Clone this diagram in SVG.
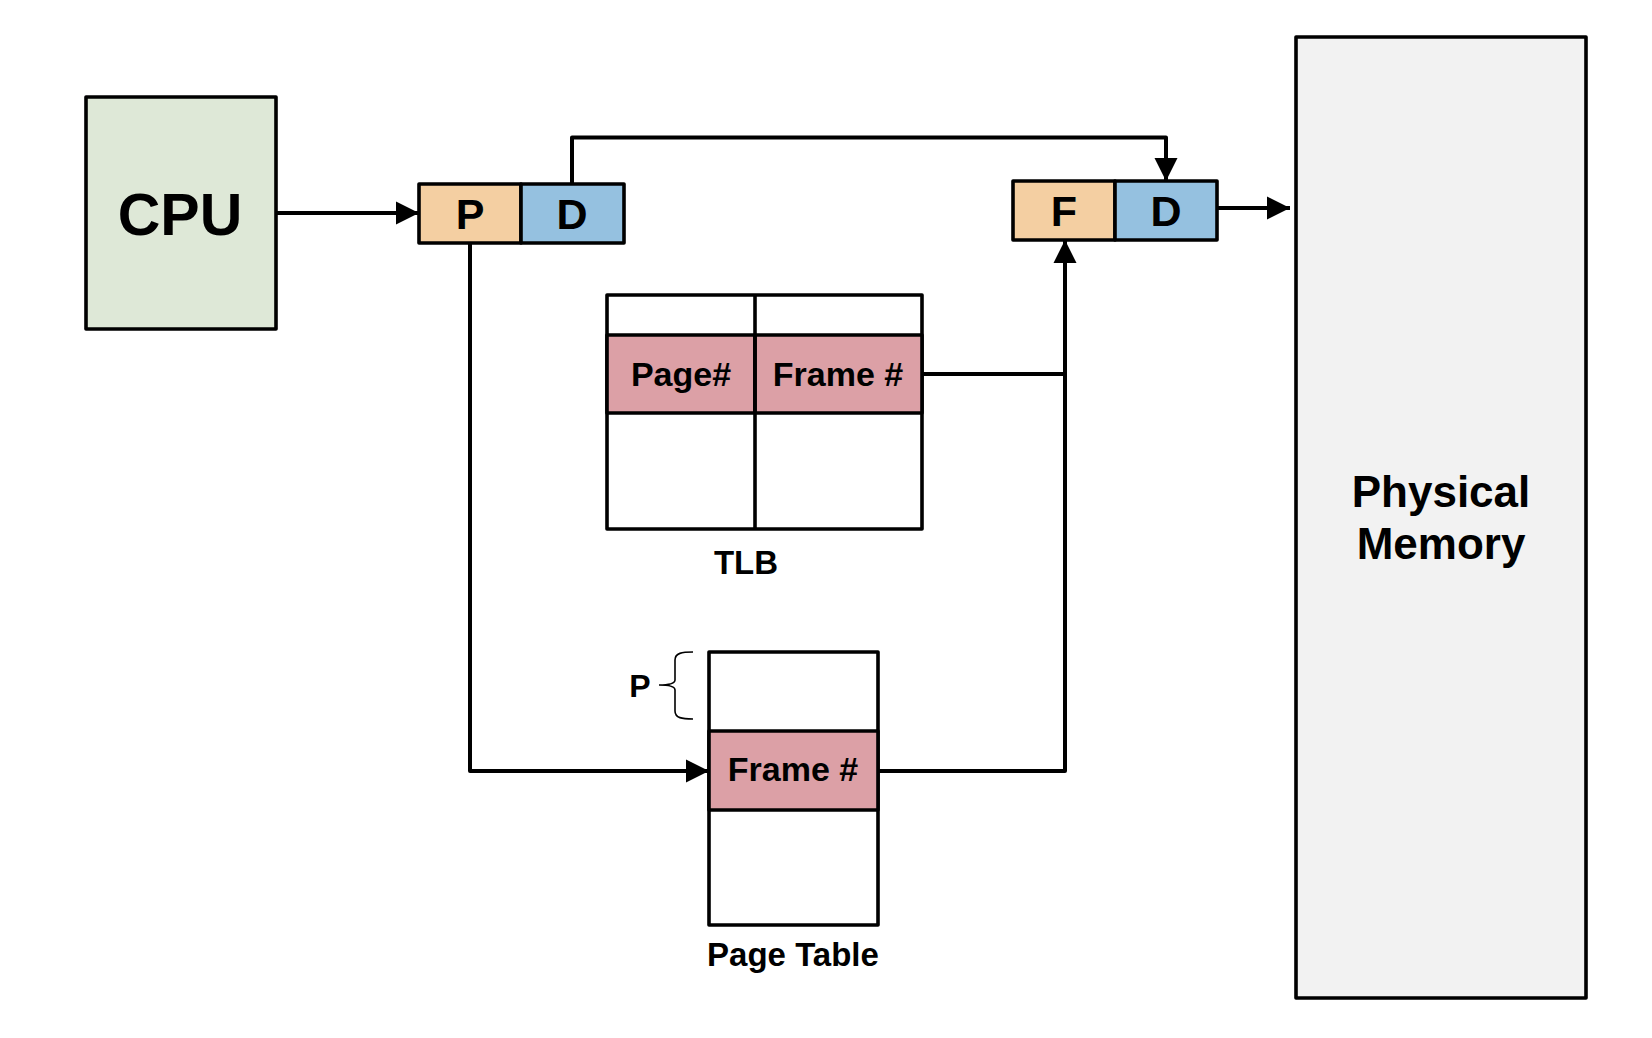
<svg xmlns="http://www.w3.org/2000/svg" width="1652" height="1038" viewBox="0 0 1652 1038">
<defs>
<marker id="ahb" viewBox="0 0 24 24" refX="24" refY="12" markerWidth="23" markerHeight="24" markerUnits="userSpaceOnUse" orient="auto">
<path d="M0,0 L24,12 L0,24 z" fill="#000"/>
</marker>
</defs>
<style>
text{font-family:"Liberation Sans",Arial,Helvetica,sans-serif;font-weight:bold;fill:#000;text-anchor:middle}
.box{stroke:#000;stroke-width:3.6;stroke-linejoin:round}
.conn{fill:none;stroke:#000;stroke-width:4;stroke-linejoin:round}
.peach{fill:#F4CFA2}
.blue{fill:#95C1E0}
.pink{fill:#DCA0A6}
.white{fill:#FFFFFF}
</style>
<rect width="1652" height="1038" fill="#fff"/>

<g id="cpu">
<rect class="box" x="86" y="97" width="190" height="232" fill="#DEE8D7"/>
<text x="180" y="235" font-size="59">CPU</text>
</g>

<g id="logical-address">
<rect class="box peach" x="419" y="184" width="102" height="59"/>
<rect class="box blue" x="521" y="184" width="103" height="59"/>
<text x="470" y="229" font-size="43">P</text>
<text x="572" y="229" font-size="43">D</text>
</g>

<g id="physical-address">
<rect class="box peach" x="1013" y="181" width="102" height="59"/>
<rect class="box blue" x="1115" y="181" width="102" height="59"/>
<text x="1064" y="226" font-size="43">F</text>
<text x="1166" y="226" font-size="43">D</text>
</g>

<g id="physical-memory">
<rect class="box" x="1296" y="37" width="290" height="961" fill="#F2F2F2"/>
<text x="1441" y="507" font-size="44">Physical</text>
<text x="1441" y="559" font-size="44">Memory</text>
</g>

<g id="tlb">
<rect class="box white" x="607" y="295" width="315" height="234"/>
<rect class="box pink" x="607" y="335" width="148" height="78"/>
<rect class="box pink" x="755" y="335" width="167" height="78"/>
<line class="box" x1="755" y1="295" x2="755" y2="529"/>
<text x="681" y="386" font-size="34">Page#</text>
<text x="838" y="386" font-size="34">Frame #</text>
<text x="746" y="574" font-size="33">TLB</text>
</g>

<g id="page-table">
<rect class="box white" x="709" y="652" width="169" height="273"/>
<rect class="box pink" x="709" y="731" width="169" height="79"/>
<text x="793" y="781" font-size="34">Frame #</text>
<text x="793" y="966" font-size="33">Page Table</text>
<text x="640" y="697" font-size="32">P</text>
<path d="M693,652 C682,652 675,653 675,660 L675,680 C675,684 668,685 659,685 C668,685 675,686 675,690 L675,711 C675,718 682,719 693,719" fill="none" stroke="#000" stroke-width="1.6"/>
</g>

<g id="connectors">
<path class="conn" d="M276,213 L419,213" marker-end="url(#ahb)"/>
<path class="conn" d="M572,184 L572,137.5 L1166,137.5 L1166,181" marker-end="url(#ahb)"/>
<path class="conn" d="M1217,208 L1290,208" marker-end="url(#ahb)"/>
<path class="conn" d="M470,243 L470,771 L709,771" marker-end="url(#ahb)"/>
<path class="conn" d="M878,771 L1065,771 L1065,240" marker-end="url(#ahb)"/>
<path class="conn" d="M922,374 L1065,374"/>
</g>
</svg>
